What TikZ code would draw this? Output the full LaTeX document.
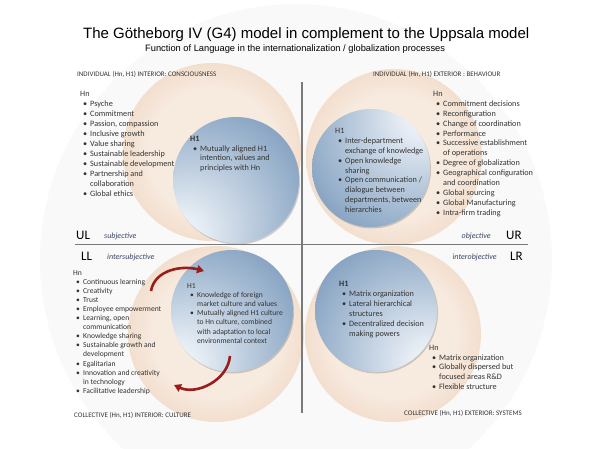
\documentclass[tikz,border=0pt]{standalone}
\usepackage{fontspec}
\setmainfont{Carlito}
\newfontfamily\titlefont{Liberation Sans}
\usetikzlibrary{arrows.meta,shadows}

\definecolor{peachin}{HTML}{F7EADF}
\definecolor{peachout}{HTML}{E3B68F}
\definecolor{bluein}{HTML}{F1F5FA}
\definecolor{blueout}{HTML}{44709F}
\definecolor{axisgrey}{HTML}{7A7A7A}
\definecolor{loopred}{HTML}{9A1D1D}
\definecolor{textgrey}{HTML}{333333}
\definecolor{slate}{HTML}{3A4666}

\pgfdeclareradialshading{peachglow}{\pgfpoint{0bp}{0bp}}{color(0bp)=(peachin); color(18bp)=(peachin); color(50bp)=(peachout)}
\pgfdeclareradialshading{blueBL}{\pgfpoint{-26bp}{-26bp}}{color(0bp)=(bluein); color(6bp)=(bluein); color(42bp)=(blueout!60!bluein); color(80bp)=(blueout)}
\pgfdeclareradialshading{blueTR}{\pgfpoint{26bp}{26bp}}{color(0bp)=(bluein); color(6bp)=(bluein); color(42bp)=(blueout!60!bluein); color(80bp)=(blueout)}
\pgfdeclareradialshading{blueBR}{\pgfpoint{26bp}{-26bp}}{color(0bp)=(bluein); color(6bp)=(bluein); color(42bp)=(blueout!60!bluein); color(80bp)=(blueout)}

\newcommand{\bitem}{\hspace*{3pt}\makebox[7pt][l]{\textbullet}}
\newcommand{\bcont}{\hspace*{10pt}}

\tikzset{
  peachdisc/.style={circle, shade, shading=peachglow, inner sep=0pt},
  bluedisc/.style={circle, shade, inner sep=0pt,
    drop shadow={shadow xshift=1pt, shadow yshift=-1.5pt, opacity=.3, fill=black!60}},
  quadlist/.style={anchor=north west, inner sep=0pt, align=left, text=textgrey,
    font=\fontsize{8.2}{10}\selectfont},
  quadhead/.style={anchor=west, inner sep=0pt, text=textgrey, font=\fontsize{7}{8}\selectfont},
  quadtag/.style={inner sep=0pt, text=black, font=\fontsize{13}{14}\selectfont},
  quadkind/.style={inner sep=0pt, text=slate, font=\fontsize{8}{9}\selectfont\itshape},
  cyclearrow/.style={draw=loopred, line width=2.6pt, -{Triangle[length=7pt, width=8pt]}}
}

\begin{document}
\begin{tikzpicture}[x=1pt, y=-1pt]
  \useasboundingbox (0,0) rectangle (598,448);
  \clip (0,0) rectangle (598,448);
  \fill[black!2.5] (296,260) circle (256);

  % quadrant discs
  \node[peachdisc, minimum size=178pt] (ULshell) at (212,152) {};
  \node[peachdisc, minimum size=176pt] (URshell) at (394,157) {};
  \node[peachdisc, minimum size=176pt] (LLshell) at (216,334) {};
  \node[peachdisc, minimum size=176pt] (LRshell) at (393,334) {};
  \node[bluedisc, shading=blueBL, minimum size=126pt] (ULcore) at (236,180) {};
  \node[bluedisc, shading=blueTR, minimum size=118pt] (URcore) at (371,168) {};
  \node[bluedisc, shading=blueBL, minimum size=122pt] (LLcore) at (232,311) {};
  \node[bluedisc, shading=blueBR, minimum size=122pt] (LRcore) at (376,311) {};

  % axes
  \coordinate (axN) at (302,82);
  \coordinate (axS) at (302,413);
  \coordinate (axW) at (75,244.5);
  \coordinate (axE) at (528,244.5);
  \draw[axisgrey, line width=1.3pt] (axN) -- (axS);
  \draw[axisgrey, line width=1.3pt] (axW) -- (axE);

  % culture cycle
  \coordinate (cycA) at (151,291);
  \coordinate (cycB) at (204,271);
  \coordinate (cycC) at (230,356);
  \coordinate (cycD) at (174,385);
  \draw[cyclearrow] (cycA) to[out=80, in=165] (cycB);
  \draw[cyclearrow] (cycC) to[out=-95, in=-25] (cycD);

  \node[anchor=west, inner sep=0pt, font=\titlefont\fontsize{15}{18}\selectfont] (title) at (83,35)
    {The Götheborg IV (G4) model in complement to the Uppsala model};
  \node[anchor=west, inner sep=0pt, font=\titlefont\fontsize{9.3}{11}\selectfont] (subtitle) at (145,49)
    {Function of Language in the internationalization / globalization processes};

  \node[quadhead] (ULhead) at (77,74) {INDIVIDUAL (Hn, H1) INTERIOR: CONSCIOUSNESS};
  \node[quadhead] (URhead) at (373,74) {INDIVIDUAL (Hn, H1) EXTERIOR : BEHAVIOUR};
  \node[quadhead] (LLhead) at (74,415) {COLLECTIVE (Hn, H1) INTERIOR: CULTURE};
  \node[quadhead] (LRhead) at (404,413) {COLLECTIVE (Hn, H1) EXTERIOR: SYSTEMS};

  \node[quadtag, anchor=west] (ULtag) at (76,235) {UL};
  \node[quadkind, anchor=west] (ULkind) at (104,236) {subjective};
  \node[quadtag, anchor=west] (LLtag) at (81,256) {LL};
  \node[quadkind, anchor=west] (LLkind) at (107,257) {intersubjective};
  \node[quadkind, anchor=east] (URkind) at (491,236) {objective};
  \node[quadtag, anchor=west] (URtag) at (506,235) {UR};
  \node[quadkind, anchor=east] (LRkind) at (497,257) {interobjective};
  \node[quadtag, anchor=west] (LRtag) at (510,256) {LR};

  \node[quadlist] (ULhn) at (80,91) {Hn\\
    \bitem Psyche\\ \bitem Commitment\\ \bitem Passion, compassion\\
    \bitem Inclusive growth\\ \bitem Value sharing\\ \bitem Sustainable leadership\\
    \bitem Sustainable development\\ \bitem Partnership and\\ \bcont collaboration\\
    \bitem Global ethics};
  \node[quadlist, font=\fontsize{8.2}{9.7}\selectfont] (ULhone) at (190,136) {\textbf{H1}\\
    \bitem Mutually aligned H1\\ \bcont intention, values and\\ \bcont principles with Hn};

  \node[quadlist, font=\fontsize{8.2}{9.9}\selectfont] (URhone) at (335,128) {H1\\
    \bitem Inter-department\\ \bcont exchange of knowledge\\
    \bitem Open knowledge\\ \bcont sharing\\
    \bitem Open communication /\\ \bcont dialogue between\\
    \bcont departments, between\\ \bcont hierarchies};
  \node[quadlist, font=\fontsize{8.2}{9.9}\selectfont] (URhn) at (433,91) {Hn\\
    \bitem Commitment decisions\\ \bitem Reconfiguration\\ \bitem Change of coordination\\
    \bitem Performance\\ \bitem Successive establishment\\ \bcont of operations\\
    \bitem Degree of globalization\\ \bitem Geographical configuration\\
    \bcont and coordination\\ \bitem Global sourcing\\ \bitem Global Manufacturing\\
    \bitem Intra-firm trading};

  \node[quadlist, font=\fontsize{7.6}{9.1}\selectfont] (LLhn) at (73,270) {Hn\\
    \bitem Continuous learning\\ \bitem Creativity\\ \bitem Trust\\
    \bitem Employee empowerment\\ \bitem Learning, open\\ \bcont communication\\
    \bitem Knowledge sharing\\ \bitem Sustainable growth and\\ \bcont development\\
    \bitem Egalitarian\\ \bitem Innovation and creativity\\ \bcont in technology\\
    \bitem Facilitative leadership};
  \node[quadlist, font=\fontsize{7.6}{9.2}\selectfont] (LLhone) at (187,283) {H1\\
    \bitem Knowledge of foreign\\ \bcont market culture and values\\
    \bitem Mutually aligned H1 culture\\ \bcont to Hn culture, combined\\
    \bcont with adaptation to local\\ \bcont environmental context};

  \node[quadlist] (LRhone) at (339,281) {\textbf{H1}\\
    \bitem Matrix organization\\ \bitem Lateral hierarchical\\ \bcont structures\\
    \bitem Decentralized decision\\ \bcont making powers};
  \node[quadlist, font=\fontsize{8.2}{9.7}\selectfont] (LRhn) at (429,345) {Hn\\
    \bitem Matrix organization\\ \bitem Globally dispersed but\\ \bcont focused areas R\&D\\
    \bitem Flexible structure};
\end{tikzpicture}
\end{document}
